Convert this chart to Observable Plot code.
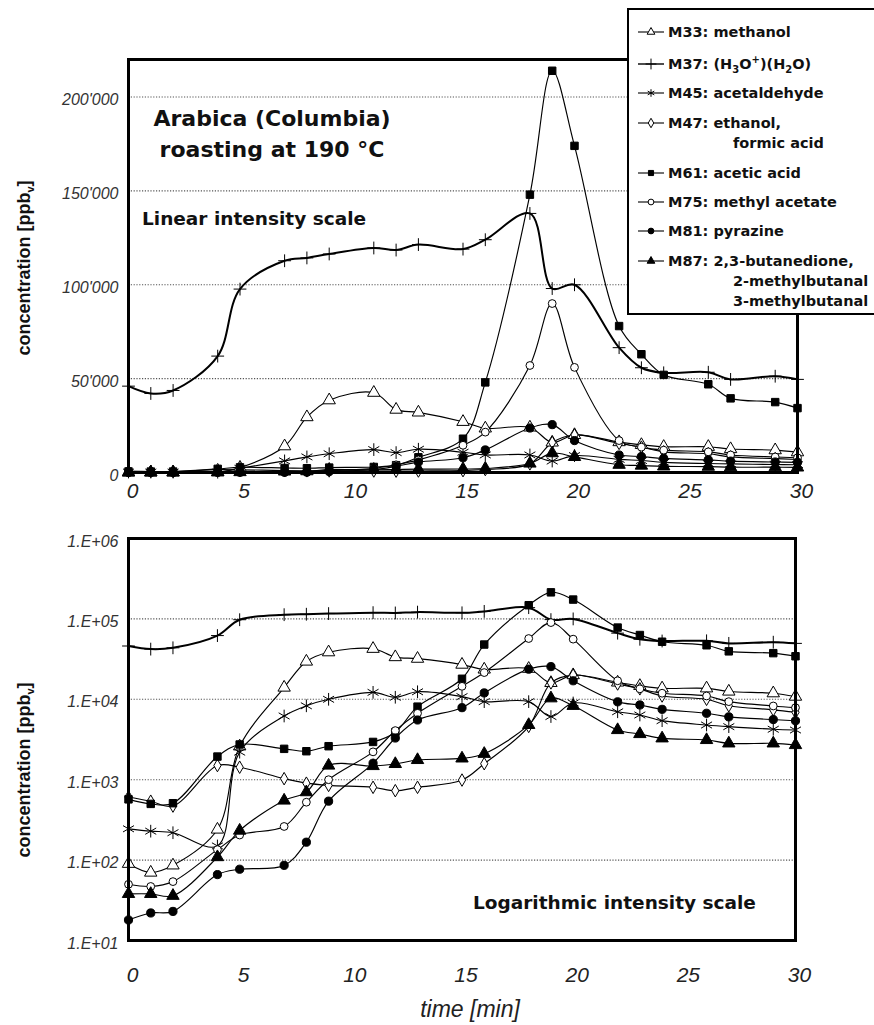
<!DOCTYPE html>
<html><head><meta charset="utf-8">
<script src="https://cdn.jsdelivr.net/npm/d3@7"></script>
<script src="https://cdn.jsdelivr.net/npm/@observablehq/plot@0.6"></script>
<style>
html,body{margin:0;padding:0;background:#fff;overflow:hidden;}
#root{position:relative;width:874px;height:1025px;overflow:hidden;background:#fff;}
.abs{position:absolute;white-space:nowrap;}
.ann{font-family:"DejaVu Sans",sans-serif;font-weight:bold;color:#111;}
.ytitle{font-family:"Liberation Sans",Arial,sans-serif;font-weight:bold;font-size:18px;color:#111;transform:translate(-50%,-50%) rotate(-90deg);}
.xtitle{font-family:"Liberation Sans",Arial,sans-serif;font-style:italic;font-size:23px;color:#222;transform:translate(-50%,-50%);}
#legend{position:absolute;left:627px;top:8px;width:270px;height:303px;border:2px solid #000;background:#fff;}
.lg{position:absolute;font-family:"DejaVu Sans",sans-serif;font-weight:bold;font-size:14.5px;color:#111;white-space:nowrap;line-height:20px;}
.lg sub,.lg sup{font-size:10px;line-height:0;}
</style></head><body><div id="root"></div>
<script>
// ---- data ----
const time = [0,1,2,4,5,7,8,9,11,12,13,15,16,18,19,20,22,23,24,26,27,29,30];
const m33 = [90,70,86,240,2600,14000,29500,38500,42500,33500,32000,27000,23500,24000,16000,20000,16200,14700,13700,13700,12500,11900,10800];
const m37 = [46000,42100,43700,62000,97700,112800,114300,116400,119600,118500,121400,119000,124000,138000,98000,100000,66500,55800,53100,53400,49600,51300,49600];
const m45 = [245,229,219,150,2200,6200,8300,10000,12200,10600,12400,10800,9350,9350,6100,9000,7000,6380,5420,4790,4570,4240,4150];
const m47 = [610,540,470,1500,1430,1030,905,850,804,730,804,990,1580,4600,16000,20000,15500,13500,11000,10000,8300,7400,6900];
const m61 = [570,500,510,1940,2740,2420,2260,2610,2950,3900,8100,18000,48000,148000,214000,174000,78000,63000,52000,47000,39500,37500,34300];
const m75 = [50,47,54,135,205,262,525,1000,2220,4080,6700,14500,21500,57000,90000,56000,17000,13500,11900,11000,9350,8260,7870];
const m81 = [18,22,23,66,77,86,167,541,1600,3300,5530,7870,12000,23700,25500,17000,9300,8500,7500,6700,6050,5600,5400];
const m87 = [38,38,36,109,233,551,700,1500,1480,1570,1760,1840,2100,4800,10300,8300,4150,3700,3270,3120,2830,2830,2700];

const seriesKeys = ["M33","M37","M45","M47","M61","M75","M81","M87"];
const seriesValues = [m33,m37,m45,m47,m61,m75,m81,m87];
const legendLabels = [
  ["M33: methanol"],
  ["M37: (H<sub>3</sub>O<sup>+</sup>)(H<sub>2</sub>O)"],
  ["M45: acetaldehyde"],
  ["M47: ethanol,", "formic acid"],
  ["M61: acetic acid"],
  ["M75: methyl acetate"],
  ["M81: pyrazine"],
  ["M87: 2,3-butanedione,", "2-methylbutanal", "3-methylbutanal"]
];
const xTicks = [0,5,10,15,20,25,30];
const linTicks = [0,50000,100000,150000,200000];
const linTickLabels = ["0","50'000","100'000","150'000","200'000"];
const logTicks = [1e1,1e2,1e3,1e4,1e5,1e6];
const logTickLabels = ["1.E+01","1.E+02","1.E+03","1.E+04","1.E+05","1.E+06"];

// ---- styles ----
const styleOf = {
  M33:{symbol:"triangle", fill:"white", r:4.6, sw:1.15},
  M37:{symbol:"plus", fill:"none", r:4.2, sw:2.0},
  M45:{symbol:"asterisk", fill:"none", r:6, sw:1.15},
  M47:{symbol:"diamond", fill:"white", r:3.8, sw:1.15},
  M61:{symbol:"square", fill:"black", r:4.2, sw:1.15},
  M75:{symbol:"circle", fill:"white", r:3.9, sw:1.15},
  M81:{symbol:"circle", fill:"black", r:4.1, sw:1.15},
  M87:{symbol:"triangle", fill:"black", r:4.6, sw:1.15}
};
const rows = seriesKeys.flatMap((k,j) => time.map((t,i) => ({t, v: seriesValues[j][i], s: k})));

function panel(o) {
  const marks = [Plot.ruleY(o.grid, {stroke:"#555", strokeDasharray:"1.2,1.6", strokeWidth:1.1})];
  for (const k of seriesKeys) {
    marks.push(Plot.line(rows.filter(d => d.s === k), {x:"t", y:"v", curve:"catmull-rom", stroke:"black", strokeWidth:styleOf[k].sw, clip:true}));
  }
  for (const k of seriesKeys) {
    const st = styleOf[k];
    marks.push(Plot.dot(rows.filter(d => d.s === k), {x:"t", y:"v", symbol:st.symbol, fill:st.fill, stroke:"black", strokeWidth:1, r:st.r}));
  }
  marks.push(Plot.frame({stroke:"black", strokeWidth:3}));
  marks.push(Plot.axisX({ticks:xTicks, tickSize:0, tickPadding:o.xPad, fontSize:21, fontStyle:"italic", fontFamily:"Liberation Sans, Arial, sans-serif", fill:"#222", dx:4, label:null}));
  marks.push(Plot.axisY({ticks:o.ticks, tickFormat:(d) => o.labels[o.ticks.indexOf(d)], tickSize:0, tickPadding:10, fontSize:16, fontStyle:"italic", fontFamily:"Liberation Sans, Arial, sans-serif", fill:"#333", dy:3, label:null}));
  return Plot.plot({
    width:874, height:o.height,
    marginLeft:128, marginRight:o.mr, marginTop:o.mt, marginBottom:o.mb,
    x:{domain:[0,30]},
    y:{type:o.type, domain:o.domain},
    style:{background:"transparent", overflow:"visible"},
    marks
  });
}

const root = document.getElementById("root");
const topPanel = panel({type:"linear", domain:[0,220000], ticks:linTicks, labels:linTickLabels, grid:linTicks.slice(1), height:510, mt:59, mb:38, mr:77, xPad:11});
topPanel.style.position = "absolute"; topPanel.style.left = "0px"; topPanel.style.top = "0px";
root.appendChild(topPanel);
const botPanel = panel({type:"log", domain:[10,1e6], ticks:logTicks, labels:logTickLabels, grid:logTicks.slice(1,5), height:515, mt:28, mb:85, mr:79, xPad:27});
botPanel.style.position = "absolute"; botPanel.style.left = "0px"; botPanel.style.top = "510px";
root.appendChild(botPanel);

function addText(html, cls, css) {
  const d = document.createElement("div");
  d.className = "abs " + cls;
  d.innerHTML = html;
  Object.assign(d.style, css);
  root.appendChild(d);
  return d;
}
addText("Arabica (Columbia)", "ann", {left:"272px", top:"118px", fontSize:"22px", transform:"translate(-50%,-50%)"});
addText("roasting at 190 °C", "ann", {left:"272px", top:"149px", fontSize:"22px", transform:"translate(-50%,-50%)"});
addText("Linear intensity scale", "ann", {left:"142px", top:"218px", fontSize:"18.5px", transform:"translate(0,-50%)"});
addText("Logarithmic intensity scale", "ann", {left:"473px", top:"902px", fontSize:"18.5px", transform:"translate(0,-50%)"});
addText("concentration [ppb<sub style='font-size:11px'>v</sub>]", "ytitle", {left:"25px", top:"268px"});
addText("concentration [ppb<sub style='font-size:11px'>v</sub>]", "ytitle", {left:"25px", top:"770px"});
addText("time [min]", "xtitle", {left:"470px", top:"1009px"});

// ---- legend ----
const legend = document.createElement("div");
legend.id = "legend";
root.appendChild(legend);
const symMap = {triangle:d3.symbolTriangle, plus:d3.symbolPlus, asterisk:d3.symbolAsterisk, diamond:d3.symbolDiamond, square:d3.symbolSquare, circle:d3.symbolCircle};
const rowY = [22, 54, 83, 113, 163, 192, 221, 251];
seriesKeys.forEach((k, i) => {
  const st = styleOf[k];
  const y = rowY[i];
  const svg = d3.create("svg").attr("width", 30).attr("height", 16)
    .style("position","absolute").style("left","8px").style("top", (y - 8) + "px");
  svg.append("line").attr("x1",1).attr("x2",27).attr("y1",8).attr("y2",8).attr("stroke","black").attr("stroke-width", k === "M37" ? 1.4 : 1.1);
  const size = (st.symbol === "plus" ? 40 : st.symbol === "asterisk" ? 40 : 26);
  svg.append("path").attr("d", d3.symbol(symMap[st.symbol], size)()).attr("transform","translate(14,8)")
    .attr("fill", st.fill).attr("stroke","black").attr("stroke-width",1);
  legend.appendChild(svg.node());
  legendLabels[i].forEach((line, j) => {
    const d = document.createElement("div");
    d.className = "lg";
    d.innerHTML = line;
    d.style.left = (j === 0 ? 39 : 104) + "px";
    d.style.top = (y - 10 + j * 20) + "px";
    legend.appendChild(d);
  });
});
</script></body></html>
